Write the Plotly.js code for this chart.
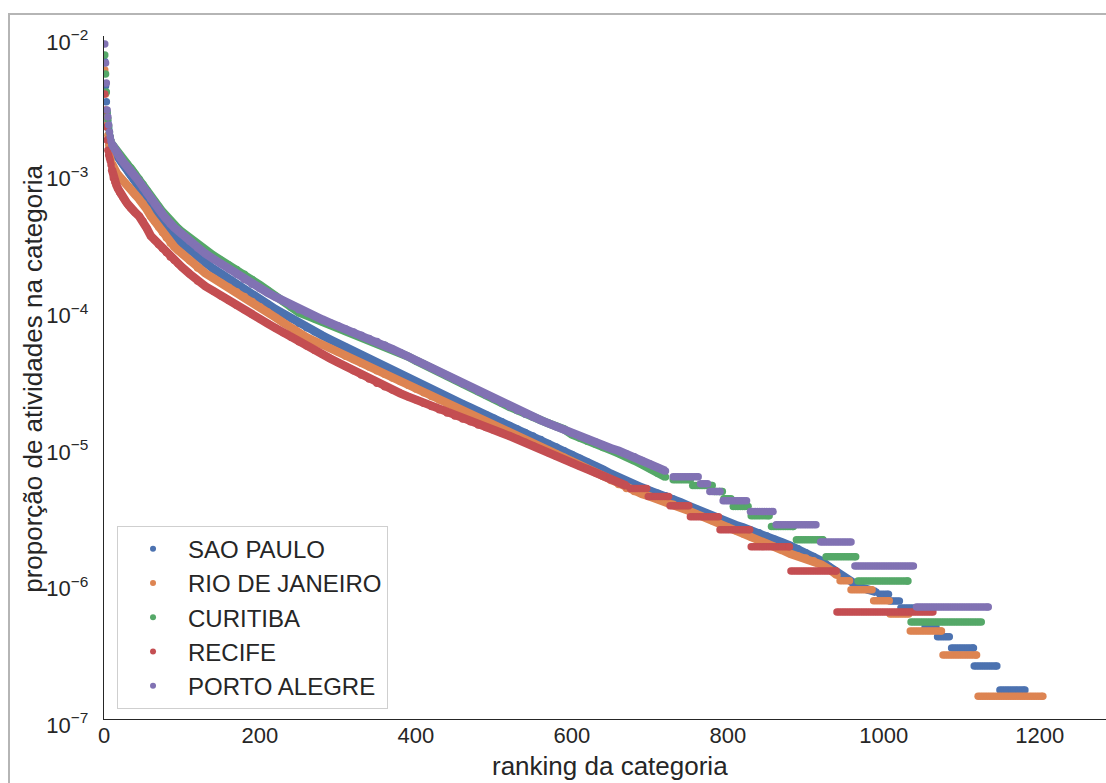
<!DOCTYPE html>
<html>
<head>
<meta charset="utf-8">
<script src="https://cdn.plot.ly/plotly-3.0.1.min.js"></script>
<style>
html, body { margin: 0; padding: 0; overflow: hidden; background: #ffffff; }
#chart { width: 1106px; height: 783px; }
#frame { position: absolute; left: 8px; top: 13px; width: 1300px; height: 900px;
  border-top: 2px solid #b5b5b5; border-left: 2px solid #b5b5b5; pointer-events: none; }
</style>
</head>
<body>
<div id="chart"></div>
<div id="frame"></div>
<script>
// ---- data ----
const cityNames = ["SAO PAULO", "RIO DE JANEIRO", "CURITIBA", "RECIFE", "PORTO ALEGRE"];
const cityColors = ["#4C72B0", "#DD8452", "#55A868", "#C44E52", "#8172B3"];

// ranks at which the continuous part of each curve was read
function seq(a, b, s) { const o = []; for (let v = a; v <= b; v += s) o.push(v); return o; }
const rankGrid = [].concat(seq(1, 10, 1), seq(12, 40, 2), seq(45, 100, 5), seq(110, 990, 10));
const headCount = 10; // ranks 1..10 drawn as separate dots

const saoPauloValues = [
  6.5e-3, 4.3e-3, 3.3e-3, 2.7e-3, 2.35e-3, 2.1e-3, 1.9e-3, 1.75e-3, 1.62e-3, 1.51e-3,
  1.455e-3, 1.40e-3, 1.34e-3, 1.29e-3, 1.24e-3, 1.19e-3, 1.15e-3, 1.11e-3, 1.07e-3, 1.03e-3, 9.9e-4, 9.58e-4, 9.25e-4, 8.9e-4, 8.61e-4,
  7.86e-4, 7.15e-4, 6.47e-4, 5.87e-4, 5.33e-4, 4.84e-4, 4.38e-4, 3.98e-4, 3.61e-4, 3.4e-4, 3.2e-4, 3.02e-4,
  2.68e-4, 2.38e-4, 2.16e-4, 1.98e-4, 1.82e-4, 1.66e-4, 1.53e-4, 1.4e-4, 1.28e-4, 1.18e-4,
  1.09e-4, 1.0e-4, 9.25e-5, 8.5e-5, 7.85e-5, 7.3e-5, 6.85e-5, 6.42e-5, 6.0e-5, 5.62e-5,
  5.26e-5, 4.93e-5, 4.62e-5, 4.32e-5, 4.0e-5, 3.77e-5, 3.55e-5, 3.32e-5, 3.12e-5, 2.94e-5,
  2.76e-5, 2.58e-5, 2.43e-5, 2.29e-5, 2.15e-5, 2.02e-5, 1.9e-5, 1.79e-5, 1.69e-5, 1.59e-5,
  1.5e-5, 1.41e-5, 1.33e-5, 1.25e-5, 1.18e-5, 1.11e-5, 1.04e-5, 9.8e-6, 9.2e-6, 8.65e-6,
  8.1e-6, 7.6e-6, 7.1e-6, 6.7e-6, 6.25e-6, 5.85e-6, 5.5e-6, 5.2e-6, 4.95e-6, 4.7e-6,
  4.5e-6, 4.3e-6, 4.08e-6, 3.85e-6, 3.63e-6, 3.43e-6, 3.22e-6, 3.03e-6, 2.86e-6, 2.74e-6,
  2.63e-6, 2.52e-6, 2.41e-6, 2.31e-6, 2.19e-6, 2.07e-6, 1.96e-6, 1.86e-6, 1.76e-6, 1.65e-6,
  1.55e-6, 1.44e-6, 1.3e-6, 1.18e-6, 1.07e-6, 9.9e-7, 9.2e-7, 8.85e-7, 8.5e-7
];
const rioValues = [
  5.64e-3, 3.76e-3, 2.55e-3, 2.23e-3, 1.88e-3, 1.59e-3, 1.42e-3, 1.3e-3, 1.24e-3, 1.17e-3,
  1.08e-3, 1.04e-3, 1.0e-3, 9.63e-4, 9.3e-4, 9.0e-4, 8.75e-4, 8.5e-4, 8.25e-4, 8.05e-4, 7.83e-4, 7.6e-4, 7.36e-4, 7.14e-4, 6.9e-4,
  6.4e-4, 5.94e-4, 5.37e-4, 4.8e-4, 4.38e-4, 4.0e-4, 3.65e-4, 3.34e-4, 3.05e-4, 2.87e-4, 2.7e-4, 2.55e-4,
  2.26e-4, 2.0e-4, 1.83e-4, 1.69e-4, 1.56e-4, 1.45e-4, 1.34e-4, 1.24e-4, 1.14e-4, 1.04e-4,
  9.55e-5, 8.7e-5, 7.95e-5, 7.25e-5, 6.63e-5, 6.22e-5, 5.85e-5, 5.5e-5, 5.17e-5, 4.86e-5,
  4.53e-5, 4.28e-5, 4.02e-5, 3.78e-5, 3.55e-5, 3.34e-5, 3.13e-5, 2.95e-5, 2.77e-5, 2.6e-5,
  2.45e-5, 2.3e-5, 2.16e-5, 2.02e-5, 1.9e-5, 1.79e-5, 1.69e-5, 1.59e-5, 1.5e-5, 1.41e-5,
  1.33e-5, 1.25e-5, 1.18e-5, 1.11e-5, 1.04e-5, 9.85e-6, 9.28e-6, 8.73e-6, 8.24e-6, 7.72e-6,
  7.23e-6, 6.77e-6, 6.35e-6, 5.95e-6, 5.57e-6, 5.2e-6, 4.87e-6, 4.62e-6, 4.43e-6, 4.25e-6,
  4.08e-6, 3.9e-6, 3.73e-6, 3.53e-6, 3.34e-6, 3.16e-6, 3.0e-6, 2.83e-6, 2.68e-6, 2.54e-6,
  2.39e-6, 2.26e-6, 2.14e-6, 2.03e-6, 1.93e-6, 1.83e-6, 1.72e-6, 1.62e-6, 1.56e-6, 1.51e-6,
  1.44e-6, 1.35e-6, 1.25e-6, 1.13e-6
];
const curitibaValues = [
  7.26e-3, 5.27e-3, 3.89e-3, 2.78e-3, 2.47e-3, 2.19e-3, 1.98e-3, 1.82e-3, 1.7e-3, 1.62e-3,
  1.56e-3, 1.49e-3, 1.43e-3, 1.38e-3, 1.32e-3, 1.29e-3, 1.25e-3, 1.21e-3, 1.18e-3, 1.15e-3, 1.11e-3, 1.08e-3, 1.045e-3, 1.01e-3, 9.75e-4,
  8.98e-4, 8.18e-4, 7.41e-4, 6.74e-4, 6.17e-4, 5.64e-4, 5.17e-4, 4.75e-4, 4.35e-4, 4.1e-4, 3.89e-4, 3.68e-4,
  3.3e-4, 2.95e-4, 2.69e-4, 2.48e-4, 2.28e-4, 2.11e-4, 1.95e-4, 1.8e-4, 1.65e-4, 1.5e-4,
  1.37e-4, 1.25e-4, 1.14e-4, 1.03e-4, 9.45e-5, 8.98e-5, 8.52e-5, 8.1e-5, 7.7e-5, 7.3e-5,
  6.95e-5, 6.6e-5, 6.3e-5, 6.0e-5, 5.7e-5, 5.45e-5, 5.1e-5, 4.8e-5, 4.5e-5, 4.2e-5,
  3.95e-5, 3.7e-5, 3.47e-5, 3.25e-5, 3.05e-5, 2.85e-5, 2.68e-5, 2.5e-5, 2.34e-5, 2.2e-5,
  2.06e-5, 1.93e-5, 1.81e-5, 1.72e-5, 1.63e-5, 1.54e-5, 1.46e-5, 1.39e-5, 1.32e-5, 1.21e-5,
  1.14e-5, 1.08e-5, 1.03e-5, 9.7e-6, 9.3e-6, 8.8e-6, 8.4e-6, 7.8e-6, 7.3e-6, 6.8e-6,
  6.3e-6, 5.9e-6
];
const recifeValues = [
  3.76e-3, 2.87e-3, 2.16e-3, 1.73e-3, 1.46e-3, 1.345e-3, 1.28e-3, 1.22e-3, 1.14e-3, 1.06e-3,
  9.13e-4, 8.57e-4, 8.07e-4, 7.61e-4, 7.18e-4, 6.9e-4, 6.64e-4, 6.38e-4, 6.16e-4, 5.92e-4, 5.7e-4, 5.51e-4, 5.38e-4, 5.24e-4, 5.11e-4,
  4.8e-4, 4.41e-4, 3.9e-4, 3.44e-4, 3.21e-4, 2.98e-4, 2.78e-4, 2.59e-4, 2.41e-4, 2.28e-4, 2.15e-4, 2.03e-4,
  1.81e-4, 1.61e-4, 1.47e-4, 1.36e-4, 1.25e-4, 1.16e-4, 1.07e-4, 9.9e-5, 9.15e-5, 8.47e-5,
  7.85e-5, 7.27e-5, 6.72e-5, 6.22e-5, 5.77e-5, 5.37e-5, 5.01e-5, 4.67e-5, 4.36e-5, 4.07e-5,
  3.8e-5, 3.54e-5, 3.3e-5, 3.08e-5, 2.87e-5, 2.71e-5, 2.56e-5, 2.42e-5, 2.29e-5, 2.17e-5,
  2.05e-5, 1.94e-5, 1.84e-5, 1.74e-5, 1.65e-5, 1.57e-5, 1.5e-5, 1.42e-5, 1.36e-5, 1.3e-5,
  1.24e-5, 1.18e-5, 1.12e-5, 1.06e-5, 1.0e-5, 9.44e-6, 8.9e-6, 8.4e-6, 7.93e-6, 7.52e-6,
  7.1e-6, 6.73e-6, 6.37e-6, 6.02e-6, 5.7e-6, 5.39e-6, 5.1e-6
];
const portoAlegreValues = [
  8.74e-3, 6.34e-3, 4.53e-3, 2.87e-3, 2.55e-3, 2.23e-3, 1.98e-3, 1.82e-3, 1.7e-3, 1.62e-3,
  1.54e-3, 1.47e-3, 1.4e-3, 1.34e-3, 1.28e-3, 1.25e-3, 1.21e-3, 1.17e-3, 1.14e-3, 1.1e-3, 1.07e-3, 1.04e-3, 1.0e-3, 9.68e-4, 9.37e-4,
  8.61e-4, 7.77e-4, 7.05e-4, 6.41e-4, 5.89e-4, 5.41e-4, 4.97e-4, 4.58e-4, 4.2e-4, 3.97e-4, 3.75e-4, 3.53e-4,
  3.15e-4, 2.81e-4, 2.55e-4, 2.34e-4, 2.15e-4, 1.97e-4, 1.8e-4, 1.65e-4, 1.52e-4, 1.42e-4,
  1.32e-4, 1.23e-4, 1.15e-4, 1.06e-4, 9.9e-5, 9.4e-5, 8.9e-5, 8.4e-5, 7.95e-5, 7.55e-5,
  7.15e-5, 6.8e-5, 6.45e-5, 6.1e-5, 5.8e-5, 5.45e-5, 5.1e-5, 4.8e-5, 4.5e-5, 4.2e-5,
  3.95e-5, 3.7e-5, 3.47e-5, 3.25e-5, 3.05e-5, 2.85e-5, 2.68e-5, 2.5e-5, 2.34e-5, 2.2e-5,
  2.06e-5, 1.93e-5, 1.81e-5, 1.71e-5, 1.62e-5, 1.54e-5, 1.46e-5, 1.38e-5, 1.31e-5, 1.24e-5,
  1.18e-5, 1.12e-5, 1.07e-5, 1.01e-5, 9.6e-6, 9.2e-6, 8.7e-6, 8.3e-6, 7.8e-6, 7.35e-6,
  6.95e-6, 6.55e-6
];

// tail: runs of equal proportion  [value, first rank, last rank]
const saoPauloRuns = [[8.2e-7, 995, 1006], [7.3e-7, 1008, 1020], [6.5e-7, 1022, 1051], [4.7e-7, 1053, 1067],
  [4.0e-7, 1069, 1084], [3.31e-7, 1087, 1115], [2.44e-7, 1116, 1145], [1.63e-7, 1149, 1181]];
const rioRuns = [[1.03e-6, 944, 956], [8.82e-7, 958, 985], [7.35e-7, 987, 1007], [5.88e-7, 1008, 1032],
  [4.41e-7, 1034, 1074], [2.94e-7, 1076, 1119], [1.47e-7, 1121, 1204]];
const curitibaRuns = [[5.64e-6, 730, 752], [5.13e-6, 755, 780], [4.62e-6, 783, 793], [4.1e-6, 795, 804],
  [3.59e-6, 807, 826], [3.08e-6, 830, 853], [2.565e-6, 856, 884], [2.05e-6, 888, 922],
  [1.54e-6, 926, 964], [1.026e-6, 967, 1031], [5.13e-7, 1035, 1125]];
const recifeRuns = [[4.86e-6, 675, 696], [4.25e-6, 698, 724], [3.64e-6, 726, 750], [3.03e-6, 752, 788],
  [2.43e-6, 790, 828], [1.82e-6, 830, 879], [1.214e-6, 881, 939], [6.07e-7, 940, 1063]];
const portoAlegreRuns = [[5.94e-6, 730, 762], [5.28e-6, 765, 774], [4.62e-6, 777, 790], [3.96e-6, 794, 824],
  [3.3e-6, 829, 858], [2.64e-6, 862, 913], [1.98e-6, 919, 958], [1.32e-6, 963, 1038], [6.6e-7, 1042, 1134]];

const xTickValues = [0, 200, 400, 600, 800, 1000, 1200];
const yTickValues = [1e-7, 1e-6, 1e-5, 1e-4, 1e-3, 1e-2];
const yTickLabels = ["10<sup>\u22127</sup>", "10<sup>\u22126</sup>", "10<sup>\u22125</sup>",
                     "10<sup>\u22124</sup>", "10<sup>\u22123</sup>", "10<sup>\u22122</sup>"];

// ---- build traces ----
const allValues = [saoPauloValues, rioValues, curitibaValues, recifeValues, portoAlegreValues];
const allRuns = [saoPauloRuns, rioRuns, curitibaRuns, recifeRuns, portoAlegreRuns];
const FONT = "'Liberation Sans', Arial, Helvetica, sans-serif";

const traces = [];
cityNames.forEach((name, i) => {
  const vals = allValues[i];
  const xs = rankGrid.slice(0, vals.length);
  // dense body: consecutive read points joined as a thick band
  traces.push({
    type: "scatter", mode: "lines", showlegend: false, hoverinfo: "skip",
    x: xs.slice(headCount - 1), y: vals.slice(headCount - 1),
    line: { color: cityColors[i], width: 8.5 }
  });
  // individual dots: head, body read points and tail runs
  const px = xs.slice(), py = vals.slice();
  allRuns[i].forEach(([v, a, b]) => {
    for (let r = a; r <= b; r += 3) { px.push(r); py.push(v); }
    if ((b - a) % 3 !== 0) { px.push(b); py.push(v); }
  });
  traces.push({
    type: "scatter", mode: "markers", name: name, showlegend: false,
    x: px, y: py,
    marker: { color: cityColors[i], size: 7.5, line: { width: 0 } },
    hoverinfo: "x+y+name"
  });
});
// legend entries
cityNames.forEach((name, i) => {
  traces.push({
    type: "scatter", mode: "markers", name: name, x: [null], y: [null],
    marker: { color: cityColors[i], size: 6 }, showlegend: true, hoverinfo: "skip"
  });
});

const layout = {
  width: 1106, height: 783,
  margin: { l: 104, r: 0, t: 36, b: 64, pad: 0 },
  paper_bgcolor: "#ffffff", plot_bgcolor: "#ffffff",
  font: { family: FONT, color: "#262626", size: 22 },
  showlegend: true,
  legend: {
    x: 0.013, y: 0.015, xanchor: "left", yanchor: "bottom",
    bgcolor: "rgba(255,255,255,0.85)", bordercolor: "#cfcfcf", borderwidth: 1,
    font: { family: FONT, size: 24, color: "#262626" },
    tracegroupgap: 3, itemwidth: 60, traceorder: "normal"
  },
  xaxis: {
    range: [0, 1285], showgrid: false, zeroline: false,
    showline: true, linecolor: "#262626", linewidth: 1.3,
    ticks: "", tickmode: "array", tickvals: xTickValues,
    tickfont: { family: FONT, size: 22, color: "#262626" },
    ticklabelstandoff: -4
  },
  yaxis: {
    type: "log", range: [-7, -2], showgrid: false, zeroline: false,
    showline: true, linecolor: "#262626", linewidth: 1.3,
    ticks: "", tickmode: "array", tickvals: yTickValues, ticktext: yTickLabels,
    tickfont: { family: FONT, size: 22, color: "#262626" },
    ticklabelstandoff: 10, ticklabelshift: 6
  },
  annotations: [
    { text: "ranking da categoria", xref: "paper", yref: "paper", x: 0.505, y: -0.0688,
      xanchor: "center", yanchor: "middle", showarrow: false,
      font: { family: FONT, size: 26, color: "#262626" } },
    { text: "proporção de atividades na categoria", xref: "paper", yref: "paper", x: -0.0709, y: 0.498,
      xanchor: "center", yanchor: "middle", showarrow: false, textangle: -90,
      font: { family: FONT, size: 26, color: "#262626" } }
  ]
};

Plotly.newPlot("chart", traces, layout, { displayModeBar: false, staticPlot: true });
</script>
</body>
</html>
